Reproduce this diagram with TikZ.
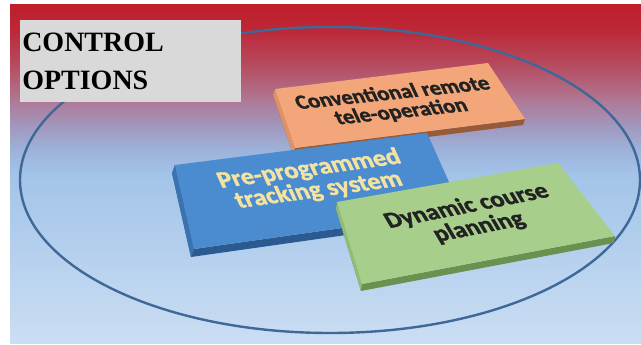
\documentclass[tikz,border=0pt]{standalone}
\usepackage{fontspec}
\setmainfont{Liberation Serif}
\newfontfamily\slabfont{Carlito}[BoldFeatures={FakeBold=1.5}]
\usetikzlibrary{positioning}

\definecolor{bg0}{RGB}{192,30,42}
\definecolor{bg1}{RGB}{188,40,55}
\definecolor{bg2}{RGB}{182,75,95}
\definecolor{bg3}{RGB}{175,120,148}
\definecolor{bg4}{RGB}{162,150,188}
\definecolor{bg5}{RGB}{157,178,218}
\definecolor{bg6}{RGB}{163,196,232}
\definecolor{bg7}{RGB}{183,209,238}
\definecolor{bg8}{RGB}{203,222,243}
\definecolor{ringblue}{RGB}{62,104,152}
\definecolor{titlegrey}{RGB}{217,217,217}
\definecolor{convface}{RGB}{242,166,121}
\definecolor{convleft}{RGB}{222,146,104}
\definecolor{convedge}{RGB}{150,92,58}
\definecolor{trackface}{RGB}{75,139,207}
\definecolor{trackleft}{RGB}{58,114,178}
\definecolor{trackedge}{RGB}{42,90,144}
\definecolor{dynface}{RGB}{167,207,139}
\definecolor{dynleft}{RGB}{145,188,118}
\definecolor{dynedge}{RGB}{106,145,80}
\definecolor{darktext}{RGB}{34,34,34}
\definecolor{yellowtext}{RGB}{243,227,161}

% one bevelled slab: corners (#1-tl) (#1-tr) (#1-br) (#1-bl), depth #2
\newcommand\slab[5]{%
  \fill[#5] (#1-tl) -- ([shift={#2}]#1-tl) -- ([shift={#2}]#1-bl)
    -- ([shift={#2}]#1-br) -- (#1-br) -- (#1-bl) -- cycle;
  \fill[#4] (#1-tl) -- ([shift={#2}]#1-tl) -- ([shift={#2}]#1-bl) -- (#1-bl) -- cycle;
  \fill[#3] (#1-tl) -- (#1-tr) -- (#1-br) -- (#1-bl) -- cycle;}

\begin{document}
\begin{tikzpicture}[x=0.75pt,y=-0.75pt,
    slabtext/.style 2 args={font=\slabfont\bfseries\fontsize{#1}{#2}\selectfont,
      align=center, inner sep=0pt, xscale=1.08}]
  \useasboundingbox (0,0) rectangle (641,345);
  % backdrop, red at the top fading to pale blue
  \foreach \ya/\yb/\ca/\cb in {5/30/bg0/bg1, 30/65/bg1/bg2, 65/100/bg2/bg3,
      100/125/bg3/bg4, 125/150/bg4/bg5, 150/175/bg5/bg6, 175/260/bg6/bg7, 260/343/bg7/bg8}
    \shade[top color=\ca, bottom color=\cb] (10,\ya-0.5) rectangle (641,\yb+0.5);
  \draw[ringblue, line width=1.8pt] (330,180) ellipse [x radius=310, y radius=153];

  \node[fill=titlegrey, anchor=north west, minimum width=165.75pt,
    minimum height=61.5pt, text width=162.75pt, inner xsep=1.5pt, align=left,
    font=\bfseries\fontsize{21}{28.5}\selectfont] (title) at (20,20)
    {CONTROL\\OPTIONS};

  \coordinate (conv-tl) at (275,89);
  \coordinate (conv-tr) at (488,63);
  \coordinate (conv-br) at (525,119);
  \coordinate (conv-bl) at (295,148);
  \slab{conv}{(-2,6)}{convface}{convleft}{convedge}

  \coordinate (track-tl) at (175,165);
  \coordinate (track-tr) at (427,133);
  \coordinate (track-br) at (462,211);
  \coordinate (track-bl) at (194,249);
  \slab{track}{(-3,8)}{trackface}{trackleft}{trackedge}

  \coordinate (dyn-tl) at (337,202);
  \coordinate (dyn-tr) at (558,163);
  \coordinate (dyn-br) at (615,236);
  \coordinate (dyn-bl) at (362,284);
  \slab{dyn}{(-1,7)}{dynface}{dynleft}{dynedge}

  \node[slabtext={15.4}{14.5}, rotate=6.5, xslant=-0.3, text=darktext]
    (conv) at (397,103) {Conventional remote\\tele-operation};
  \node[slabtext={18}{15.5}, rotate=8.5, xslant=-0.25, text=yellowtext]
    (track) at (314,180) {Pre-programmed\\tracking system};
  \node[slabtext={17.4}{17}, rotate=12, xslant=-0.3, text=darktext]
    (dyn) at (473,217) {Dynamic course\\planning};
\end{tikzpicture}
\end{document}
